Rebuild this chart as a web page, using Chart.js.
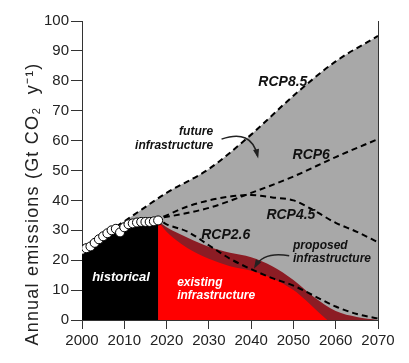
<!DOCTYPE html>
<html>
<head>
<meta charset="utf-8">
<script src="https://cdn.jsdelivr.net/npm/chart.js@4.4.1/dist/chart.umd.min.js"></script>
<style>
  html, body { margin: 0; padding: 0; background: #fff; }
  #wrap { width: 409px; height: 363px; }
</style>
</head>
<body>
<div id="wrap"><canvas id="myChart"></canvas></div>
<script>
// values (Gt CO2 per year)
const histYears = [2000, 2001, 2002, 2003, 2004, 2005, 2006, 2007, 2008, 2009, 2010, 2011, 2012, 2013, 2014, 2015, 2016, 2017, 2018];
const histValues = [23.5, 24, 24.6, 25.8, 27, 28, 29, 30, 30.5, 29.3, 31, 32, 32.3, 32.6, 32.8, 32.8, 32.8, 33, 33.3];

const rcp85Years = [2000, 2005, 2010, 2020, 2030, 2040, 2050, 2060, 2070];
const rcp85Values = [24.5, 28.5, 33, 42.5, 50.5, 62, 75, 86.5, 95];

const rcp6Years = [2010, 2018, 2030, 2040, 2050, 2060, 2070];
const rcp6Values = [32.5, 34, 37.5, 42.5, 48, 54.5, 60.5];

const rcp45Years = [2010, 2018, 2025, 2030, 2035, 2040, 2045, 2050, 2055, 2060, 2065, 2070];
const rcp45Values = [32, 34, 38, 40, 41.3, 41.8, 41, 40, 36.5, 32.5, 29.5, 26];

const rcp26Years = [2010, 2018, 2020, 2025, 2030, 2035, 2040, 2045, 2050, 2055, 2060, 2065, 2070];
const rcp26Values = [32, 33.5, 32, 29.5, 25, 20.5, 17, 14, 11.5, 8, 4.5, 2, 0.5];

const existingYears = [2018, 2020, 2022, 2025, 2030, 2035, 2040, 2045, 2050, 2053, 2056, 2058];
const existingValues = [33, 29.5, 27, 24, 20.5, 18, 16.5, 14, 10, 6.5, 2.5, 0];

const proposedYears = [2018, 2020, 2025, 2030, 2035, 2040, 2045, 2050, 2055, 2060, 2065, 2070];
const proposedValues = [33, 31, 27.5, 24.5, 22.5, 21, 18, 13.4, 7.5, 3, 1, 0];

const xTicks = [2000, 2010, 2020, 2030, 2040, 2050, 2060, 2070];
const yTicks = [0, 10, 20, 30, 40, 50, 60, 70, 80, 90, 100];

function pts(xs, ys) {
    return xs.map((x, i) => ({ x: x, y: ys[i] }));
}

const dashed = (label, xs, ys, order) => ({
    label: label,
    data: pts(xs, ys),
    borderColor: '#000',
    borderWidth: 2,
    borderDash: [6, 4],
    pointRadius: 0,
    fill: false,
    cubicInterpolationMode: 'monotone',
    order: order
});

// annotations: text, arrows, right frame line
const notes = {
    id: 'notes',
    afterDatasetsDraw(chart) {
        const c = chart.ctx;
        const xs = chart.scales.x, ys = chart.scales.y;
        const X = v => xs.getPixelForValue(v);
        const Y = v => ys.getPixelForValue(v);
        const area = chart.chartArea;
        c.save();

        // right frame
        c.strokeStyle = '#333';
        c.lineWidth = 1;
        c.beginPath();
        c.moveTo(Math.round(area.right) + 0.5, area.top);
        c.lineTo(Math.round(area.right) + 0.5, area.bottom);
        c.stroke();

        function txt(s, x, y, size, color, align) {
            c.font = 'italic bold ' + size + 'px "Liberation Sans", Arial, sans-serif';
            c.fillStyle = color;
            c.textAlign = align || 'center';
            c.textBaseline = 'middle';
            c.fillText(s, X(x), Y(y));
        }
        txt('RCP8.5', 2047.5, 79.6, 14, '#111');
        txt('RCP6', 2054.2, 55.2, 14, '#111');
        txt('RCP4.5', 2049.4, 35.1, 14, '#111');
        txt('RCP2.6', 2034, 28.4, 14, '#111');
        txt('future', 2031, 62.9, 12, '#111', 'right');
        txt('infrastructure', 2031, 58.2, 12, '#111', 'right');
        txt('proposed', 2049.9, 24.7, 12, '#111', 'left');
        txt('infrastructure', 2049.9, 20.4, 12, '#111', 'left');
        txt('historical', 2002.4, 14.4, 13, '#fff', 'left');
        txt('existing', 2022.5, 12.4, 12, '#fff', 'left');
        txt('infrastructure', 2022.5, 8.0, 12, '#fff', 'left');

        // curved arrows
        function arrow(x0, y0, cx, cy, x1, y1) {
            const p0 = [X(x0), Y(y0)], pc = [X(cx), Y(cy)], p1 = [X(x1), Y(y1)];
            c.strokeStyle = '#222';
            c.fillStyle = '#222';
            c.lineWidth = 1.5;
            c.beginPath();
            c.moveTo(p0[0], p0[1]);
            c.quadraticCurveTo(pc[0], pc[1], p1[0], p1[1]);
            c.stroke();
            const a = Math.atan2(p1[1] - pc[1], p1[0] - pc[0]);
            c.beginPath();
            c.moveTo(p1[0] + 3 * Math.cos(a), p1[1] + 3 * Math.sin(a));
            c.lineTo(p1[0] - 7 * Math.cos(a - 0.45), p1[1] - 7 * Math.sin(a - 0.45));
            c.lineTo(p1[0] - 7 * Math.cos(a + 0.45), p1[1] - 7 * Math.sin(a + 0.45));
            c.closePath();
            c.fill();
        }
        arrow(2033, 60.5, 2040, 64, 2041.5, 55);
        arrow(2049, 21.5, 2043, 23, 2041, 18);

        // y axis title
        c.translate(33, 204);
        c.rotate(-Math.PI / 2);
        c.font = '18px "Liberation Sans", Arial, sans-serif';
        c.letterSpacing = '1.2px';
        c.fillStyle = '#222';
        c.textAlign = 'center';
        c.textBaseline = 'middle';
        c.fillText('Annual emissions (Gt CO\u2082  y\u207B\u00B9)', 0, 0);
        c.restore();
    }
};

const ctx = document.getElementById('myChart');
const cht = new Chart(ctx, {
    type: 'line',
    data: {
        datasets: [
            {
                label: 'historical data',
                data: pts(histYears, histValues),
                showLine: false,
                pointRadius: 4.5,
                pointBackgroundColor: '#fff',
                pointBorderColor: '#000',
                pointBorderWidth: 1,
                order: 0
            },
            dashed('RCP8.5', rcp85Years, rcp85Values, 1),
            dashed('RCP6', rcp6Years, rcp6Values, 2),
            dashed('RCP4.5', rcp45Years, rcp45Values, 3),
            dashed('RCP2.6', rcp26Years, rcp26Values, 4),
            {
                label: 'existing infrastructure',
                data: pts(existingYears, existingValues),
                borderWidth: 0,
                pointRadius: 0,
                backgroundColor: '#ff0000',
                fill: 'origin',
                cubicInterpolationMode: 'monotone',
                order: 5
            },
            {
                label: 'proposed infrastructure',
                data: pts(proposedYears, proposedValues),
                borderWidth: 0,
                pointRadius: 0,
                backgroundColor: '#8c1c24',
                fill: 'origin',
                cubicInterpolationMode: 'monotone',
                order: 6
            },
            {
                label: 'historical',
                data: pts(histYears, histValues.map(v => v - 1)),
                borderWidth: 0,
                pointRadius: 0,
                backgroundColor: '#000',
                fill: 'origin',
                order: 7
            },
            {
                label: 'future infrastructure',
                data: pts(rcp85Years, rcp85Values),
                borderWidth: 0,
                pointRadius: 0,
                backgroundColor: '#a8a8a8',
                fill: 'origin',
                cubicInterpolationMode: 'monotone',
                order: 8
            }
        ]
    },
    options: {
        responsive: true,
        maintainAspectRatio: false,
        animation: false,
        layout: { padding: { left: 0, right: 31, top: 21, bottom: 0 } },
        plugins: { legend: { display: false }, tooltip: { enabled: false } },
        scales: {
            x: {
                type: 'linear',
                min: 2000,
                max: 2070,
                afterFit: s => { s.height = 43; },
                afterBuildTicks: s => { s.ticks = xTicks.map(v => ({ value: v })); },
                grid: { drawOnChartArea: false, drawTicks: true, tickLength: 9, color: '#333' },
                border: { color: '#333', width: 1 },
                ticks: { color: '#222', padding: 3, maxRotation: 0, font: { size: 15, family: '"Liberation Sans", Arial' }, callback: v => String(v) }
            },
            y: {
                min: 0,
                max: 100,
                afterFit: s => { s.width = 82; },
                afterBuildTicks: s => { s.ticks = yTicks.map(v => ({ value: v })); },
                grid: { drawOnChartArea: false, drawTicks: true, tickLength: 11, color: '#333' },
                border: { color: '#333', width: 1 },
                ticks: { color: '#222', padding: 2, font: { size: 15, family: '"Liberation Sans", Arial' } }
            }
        }
    },
    plugins: [notes]
});
</script>
</body>
</html>
